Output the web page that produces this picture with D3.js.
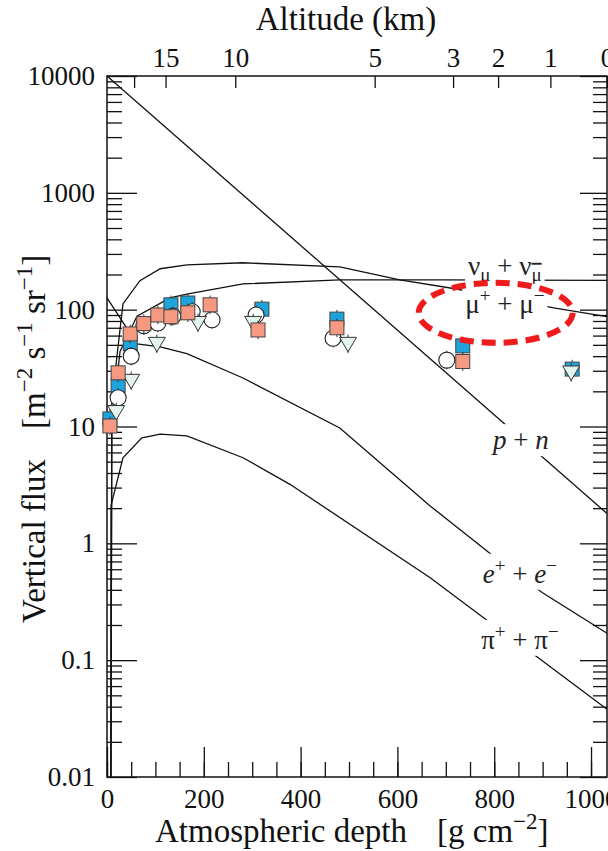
<!doctype html>
<html>
<head>
<script src="https://cdnjs.cloudflare.com/ajax/libs/d3/7.8.5/d3.min.js"></script>
<style>
  body { margin: 0; background: #fff; }
  svg { display: block; font-family: "Liberation Serif", "Times New Roman", serif; }
  .tick text { font-family: "Liberation Serif", serif; font-size: 27px; fill: #111; }
  .tick line { stroke: #111; stroke-width: 1.3; }
  path.domain { stroke: none; }
  .curve { fill: none; stroke: #111; stroke-width: 1.3; }
  .lab { font-size: 27px; fill: #222; }
  .title { font-family: "Liberation Serif", serif; font-size: 33px; fill: #111; }
</style>
</head>
<body>
<svg width="608" height="851"></svg>
<script>
// axes
var depthTicks = [0, 200, 400, 600, 800, 1000];
var fluxTicks = [0.01, 0.1, 1, 10, 100, 1000, 10000];
var fluxTickLabels = ["0.01", "0.1", "1", "10", "100", "1000", "10000"];
var altitudeDepth = [56, 121, 265, 553, 715, 808, 916, 1033];
var altitudeLabels = ["", "15", "10", "5", "3", "2", "1", "0"];

// model curves (depth g/cm2, flux)
var pnDepth = [0, 1033];
var pnFlux = [10000, 1.8];
var nuDepth = [8, 10, 27, 62, 130, 165, 281, 481, 700, 1033];
var nuFlux = [0.01, 10.5, 44, 88, 126, 136, 166, 180, 180, 178];
var muDepth = [8, 10, 33, 68, 110, 165, 281, 481, 605, 719, 926, 1033];
var muFlux = [0.01, 16.6, 112, 177, 224, 242, 252, 232, 180, 151, 103, 87];
var eDepth = [0, 62, 110, 165, 281, 481, 667, 798, 899, 1033];
var eFlux = [126, 51, 48, 42, 26, 9.7, 2.1, 0.78, 0.38, 0.17];
var piDepth = [8, 8.3, 33, 72, 110, 165, 281, 378, 667, 798, 884, 1033];
var piFlux = [0.01, 2.1, 5.4, 8.0, 8.6, 8.3, 5.4, 3.2, 0.51, 0.2, 0.11, 0.038];

// measurements
var blueDepth = [6, 23, 48, 132, 167, 320, 475, 735, 961];
var blueFlux = [11.6, 22.3, 51, 110, 114, 101, 83, 49, 31];
var circleDepth = [23, 50, 76, 105, 136, 176, 217, 308, 467, 702];
var circleFlux = [17.6, 40, 73, 77, 88, 96, 82, 90, 57, 37];
var triDepth = [19, 50, 103, 188, 302, 498, 959];
var triFlux = [13.3, 24.6, 51, 77, 77, 51, 29];
var salmonDepth = [6, 23, 48, 76, 105, 132, 167, 213, 312, 475, 735];
var salmonFlux = [10.1, 28.8, 62, 76, 90, 87, 94, 110, 67, 70, 36];
var errFactor = 1.2;

var plotLeft = 107, plotRight = 607, plotTop = 76, plotBottom = 777;
var svg = d3.select("svg");

var x = d3.scaleLinear().domain([0, 1033]).range([plotLeft, plotRight]);
var y = d3.scaleLog().domain([0.01, 10000]).range([plotBottom, plotTop]);

var minorFlux = [];
fluxTicks.slice(0, -1).forEach(function(t) {
  for (var k = 2; k < 10; k++) minorFlux.push(t * k);
});
var minorDepth = d3.range(0, 1001, 50);

// frame
svg.append("rect").attr("x", plotLeft).attr("y", plotTop)
  .attr("width", plotRight - plotLeft).attr("height", plotBottom - plotTop)
  .attr("fill", "none").attr("stroke", "#111").attr("stroke-width", 1.5);

// left axis
svg.append("g").attr("transform", `translate(${plotLeft},0)`)
  .call(d3.axisLeft(y).tickValues(minorFlux).tickSizeInner(-15).tickSizeOuter(0).tickFormat(""));
svg.append("g").attr("transform", `translate(${plotLeft},0)`)
  .call(d3.axisLeft(y).tickValues(fluxTicks).tickSizeInner(-30).tickSizeOuter(0).tickPadding(12)
    .tickFormat((d, i) => fluxTickLabels[i]));
// right axis
svg.append("g").attr("transform", `translate(${plotRight},0)`)
  .call(d3.axisRight(y).tickValues(minorFlux).tickSizeInner(-14).tickSizeOuter(0).tickFormat(""));
svg.append("g").attr("transform", `translate(${plotRight},0)`)
  .call(d3.axisRight(y).tickValues(fluxTicks).tickSizeInner(-27).tickSizeOuter(0).tickFormat(""));
// bottom axis
svg.append("g").attr("transform", `translate(0,${plotBottom})`)
  .call(d3.axisBottom(x).tickValues(minorDepth).tickSizeInner(-15).tickSizeOuter(0).tickFormat(""));
svg.append("g").attr("transform", `translate(0,${plotBottom})`)
  .call(d3.axisBottom(x).tickValues(depthTicks).tickSizeInner(-30).tickSizeOuter(0).tickPadding(12)
    .tickFormat(d3.format("d")));
// top axis (altitude)
svg.append("g").attr("transform", `translate(0,${plotTop})`)
  .call(d3.axisTop(x).tickValues(altitudeDepth).tickSizeInner(-12).tickSizeOuter(0).tickPadding(9)
    .tickFormat((d, i) => altitudeLabels[i]));

// curves
var line = d3.line().x(d => x(d[0])).y(d => y(d[1]));
[[pnDepth, pnFlux], [nuDepth, nuFlux], [muDepth, muFlux], [eDepth, eFlux], [piDepth, piFlux]]
  .forEach(function(c) {
    svg.append("path").attr("class", "curve")
      .attr("d", line(c[0].map((d, i) => [d, c[1][i]])));
  });

// rich text helper: parts {t, sup, sub, it}
function rich(sel, parts, big, small, shift) {
  var off = 0;
  parts.forEach(function(p) {
    var want = p.sup ? -shift : (p.sub ? shift * 0.55 : 0);
    var ts = sel.append("tspan").attr("dy", want - off)
      .attr("font-size", (p.sup || p.sub) ? small : big).text(p.t);
    if (p.it) ts.attr("font-style", "italic");
    if (p.bar) ts.style("text-decoration", "overline");
    if (p.dx) ts.attr("dx", p.dx);
    off = want;
  });
}

// curve labels with white boxes
var labels = [
  { d: 822, v: 199, parts: [{t: "ν"}, {t: "μ", sub: 1}, {t: " + ν"}, {t: "μ", sub: 1, bar: 1}] },
  { d: 822, v: 94, parts: [{t: "μ"}, {t: "+", sup: 1}, {t: " + μ"}, {t: "−", sup: 1}] },
  { d: 855, v: 6.4, parts: [{t: "p", it: 1}, {t: " + "}, {t: "n", it: 1}] },
  { d: 853, v: 0.46, parts: [{t: "e", it: 1}, {t: "+", sup: 1}, {t: " + "}, {t: "e", it: 1}, {t: "−", sup: 1}] },
  { d: 853, v: 0.125, parts: [{t: "π"}, {t: "+", sup: 1}, {t: " + π"}, {t: "−", sup: 1}] }
];
labels.forEach(function(l) {
  var g = svg.append("g");
  var t = g.append("text").attr("class", "lab").attr("text-anchor", "middle")
    .attr("x", x(l.d)).attr("y", y(l.v));
  rich(t, l.parts, 27, 19, 11);
  var b = t.node().getBBox();
  g.insert("rect", "text").attr("x", b.x - 3).attr("y", b.y - 1)
    .attr("width", b.width + 6).attr("height", b.height + 2).attr("fill", "#fff");
});

// measurements
function errBars(ds, vs) {
  svg.append("g").selectAll("line").data(ds).join("line")
    .attr("x1", d => x(d)).attr("x2", d => x(d))
    .attr("y1", (d, i) => y(vs[i] * errFactor)).attr("y2", (d, i) => y(vs[i] / errFactor))
    .attr("stroke", "#333").attr("stroke-width", 1);
}
function squares(ds, vs, fill) {
  errBars(ds, vs);
  svg.append("g").selectAll("rect").data(ds).join("rect")
    .attr("x", d => x(d) - 7).attr("y", (d, i) => y(vs[i]) - 7)
    .attr("width", 14).attr("height", 14)
    .attr("fill", fill).attr("stroke", "#444").attr("stroke-width", 1);
}
squares(blueDepth, blueFlux, "#1ea3dc");
errBars(circleDepth, circleFlux);
svg.append("g").selectAll("circle").data(circleDepth).join("circle")
  .attr("cx", d => x(d)).attr("cy", (d, i) => y(circleFlux[i])).attr("r", 8)
  .attr("fill", "#fff").attr("stroke", "#222").attr("stroke-width", 1.1);
errBars(triDepth, triFlux);
svg.append("g").selectAll("path").data(triDepth).join("path")
  .attr("transform", (d, i) => `translate(${x(d)},${y(triFlux[i])})`)
  .attr("d", "M-8.5,-6.5L8.5,-6.5L0,8Z")
  .attr("fill", "#e3f2ec").attr("stroke", "#333").attr("stroke-width", 1);
squares(salmonDepth, salmonFlux, "#f59a80");

// highlight ellipse round the muon label
svg.append("ellipse").attr("cx", x(803)).attr("cy", y(94)).attr("rx", 77).attr("ry", 30)
  .attr("fill", "none").attr("stroke", "#ee1c1c").attr("stroke-width", 6)
  .attr("stroke-dasharray", "14,8");

// titles
svg.append("text").attr("class", "title").attr("x", 346).attr("y", 30)
  .attr("text-anchor", "middle").text("Altitude (km)");
var xt = svg.append("text").attr("class", "title").attr("x", 155).attr("y", 842);
rich(xt, [{t: "Atmospheric depth"}, {t: "[g cm", dx: 30}, {t: "−2", sup: 1}, {t: "]"}], 33, 23, 13);
var yt = svg.append("text").attr("class", "title").attr("transform", "translate(45,623) rotate(-90)");
rich(yt, [{t: "Vertical flux"}, {t: "[m", dx: 30}, {t: "−2", sup: 1}, {t: " s"}, {t: "−1", sup: 1},
  {t: " sr"}, {t: "−1", sup: 1}, {t: "]"}], 33, 23, 13);
</script>
</body>
</html>
